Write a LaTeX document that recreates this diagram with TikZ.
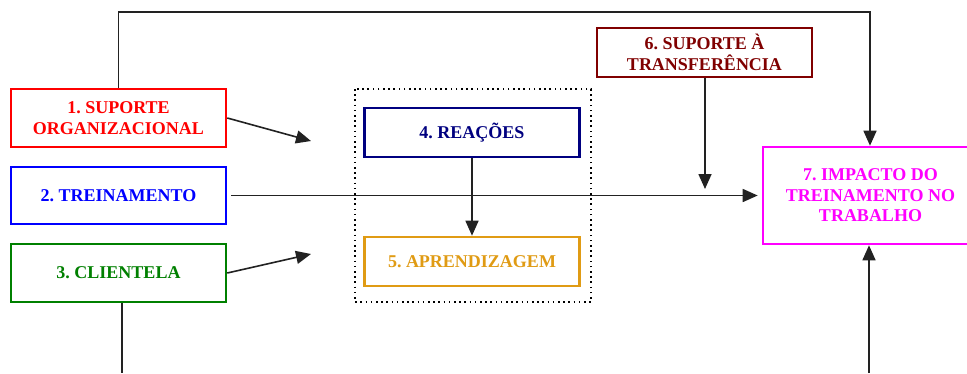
\documentclass[tikz,border=0pt]{standalone}
\usepackage{fontspec}
\setmainfont{Liberation Serif}
\usepackage{tikz}
\usetikzlibrary{arrows.meta,positioning}
\frenchspacing
\definecolor{orgred}{RGB}{255,0,0}
\definecolor{treinblue}{RGB}{0,0,255}
\definecolor{cligreen}{RGB}{0,128,0}
\definecolor{reacnavy}{RGB}{0,0,128}
\definecolor{aprendgold}{RGB}{224,155,20}
\definecolor{supdark}{RGB}{128,0,0}
\definecolor{impmag}{RGB}{255,0,255}
\definecolor{linegray}{RGB}{34,34,34}
\tikzstyle{boxstyle}=[rectangle, draw, line width=2.6pt, fill=white,
minimum width=215pt, align=center,
font=\fontsize{18}{20.5}\selectfont\bfseries]
\tikzstyle{linkstyle}=[draw=linegray, line width=1.6pt]

\begin{document}
\begin{tikzpicture}[x=1pt, y=-1pt, >={Triangle[length=15pt,width=13pt]}]
\useasboundingbox (0,0) rectangle (967,373);
\clip (0,0) rectangle (967,373);

% Left column
\node[boxstyle, draw=orgred, text=orgred, minimum height=58pt] (org) at (118.5,118) {1. SUPORTE\\ORGANIZACIONAL};
\node[boxstyle, draw=treinblue, text=treinblue, minimum height=57pt] (trein) at (118.5,195.5) {2. TREINAMENTO};
\node[boxstyle, draw=cligreen, text=cligreen, minimum height=58pt] (cli) at (118.5,273) {3. CLIENTELA};

% Middle group
\draw[line width=1.6pt, dash pattern=on 1.6pt off 3.6pt] (355,89) rectangle (591,302);
\node[boxstyle, draw=reacnavy, text=reacnavy, minimum height=49pt] (reac) at (472,132.5) {4. REAÇÕES};
\node[boxstyle, draw=aprendgold, text=aprendgold, minimum height=49pt] (aprend) at (472,261.5) {5. APRENDIZAGEM};

% Right side
\node[boxstyle, draw=supdark, text=supdark, minimum height=49pt] (sup) at (704.5,52.5) {6. SUPORTE À\\TRANSFERÊNCIA};
\node[boxstyle, draw=impmag, text=impmag, minimum height=97pt] (imp) at (870.5,195.5) {7. IMPACTO DO\\TREINAMENTO NO\\TRABALHO};

% Free ends
\coordinate (orgend) at (311,141);
\coordinate (cliend) at (311,254);
\coordinate (supend) at (705,189);
\coordinate (topleft) at (118.5,12);
\coordinate (topright) at (870,12);
\coordinate (cliout) at (122,373);
\coordinate (impin) at (869,373);

% Connectors
\draw[linkstyle,->] (org.east) -- (orgend);
\draw[linkstyle,->] (cli.east) -- (cliend);
\draw[linkstyle,->,shorten <=4pt,shorten >=4pt] (trein.east) -- (trein.east -| imp.west);
\draw[linkstyle,->] (reac.south) -- (aprend.north);
\draw[linkstyle,->] (sup.south -| supend) -- (supend);
\draw[linkstyle,->] (org.north) -- (topleft) -- (topright) -- (topright |- imp.north);
\draw[linkstyle] (cli.south -| cliout) -- (cliout);
\draw[linkstyle,->] (impin) -- (impin |- imp.south);

\end{tikzpicture}
\end{document}
